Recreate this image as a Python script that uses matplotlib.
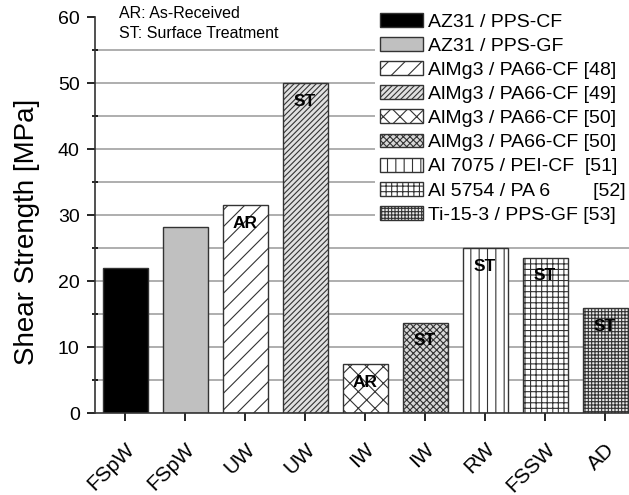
import numpy as np
import matplotlib
matplotlib.use("Agg")
import matplotlib.pyplot as plt
from matplotlib.ticker import MultipleLocator

plt.rcParams['font.family'] = ['Liberation Sans', 'DejaVu Sans']
plt.rcParams['hatch.linewidth'] = 0.8

# data
processes = ["FSpW", "FSpW", "UW", "UW", "IW", "IW", "RW", "FSSW", "AD"]
strength = [22.0, 28.2, 31.5, 50.0, 7.4, 13.7, 25.0, 23.5, 15.9]
materials = ["AZ31 / PPS-CF", "AZ31 / PPS-GF", "AlMg3 / PA66-CF [48]",
             "AlMg3 / PA66-CF [49]", "AlMg3 / PA66-CF [50]", "AlMg3 / PA66-CF [50]",
             "Al 7075 / PEI-CF  [51]", "Al 5754 / PA 6        [52]", "Ti-15-3 / PPS-GF [53]"]
treatment = ["", "", "AR", "ST", "AR", "ST", "ST", "ST", "ST"]

fills = ["black", "#c0c0c0", "white", "#e0e0e0", "white", "#d8d8d8", "white", "white", "#e8e8e8"]
hatches = [None, None, "//", "//////", "xx", "xxxxx", "||", "+++", "+++++"]

fig = plt.figure(figsize=(6.29, 4.95), dpi=100)
ax = fig.add_axes([95/629, 82/495, 534/629, 396/495])

x = np.arange(len(processes))
for yy in range(5, 60, 5):
    ax.axhline(yy, color="#a8a8a8", lw=1.3, zorder=0)

bars = ax.bar(x, strength, width=0.75, color=fills, edgecolor="#333333",
              linewidth=1.0, zorder=2)
for b, h, lab in zip(bars, hatches, materials):
    if h:
        b.set_hatch(h)
    b.set_label(lab)

for xi, v, t in zip(x, strength, treatment):
    if t:
        ax.annotate(t, (xi, v), xytext=(0, -13), textcoords="offset points",
                    ha="center", va="center", fontsize=12.5, fontweight="bold", zorder=3)

ax.set_xlim(-0.5, 8.4)
ax.set_ylim(0, 60)
ax.yaxis.set_major_locator(MultipleLocator(10))
ax.yaxis.set_minor_locator(MultipleLocator(5))
ax.tick_params(axis="y", which="major", direction="out", length=6, width=1.2,
               labelsize=14, pad=5)
ax.tick_params(axis="y", which="minor", direction="inout", length=5, width=1.2)
ax.tick_params(axis="x", direction="out", length=6, width=1.2, labelsize=15, pad=13)
ax.set_xticks(x)
ax.set_xticklabels(processes, rotation=45, ha="right", rotation_mode="anchor")
for s in ["top", "right"]:
    ax.spines[s].set_visible(False)
for s in ["left", "bottom"]:
    ax.spines[s].set_linewidth(1.2)
    ax.spines[s].set_color("#333333")

ax.set_ylabel("Shear Strength [MPa]", fontsize=20)
ax.yaxis.set_label_coords(-0.103, 0.457)

leg = ax.legend(loc="upper left", bbox_to_anchor=(375/629, 1 - 8/495),
                bbox_transform=fig.transFigure, fontsize=14, handlelength=2.2,
                handleheight=0.72, handletextpad=0.3, labelspacing=0.33,
                borderpad=0.25, borderaxespad=0, fancybox=False, framealpha=1)
leg.get_frame().set_edgecolor("white")
leg.get_frame().set_linewidth(0)
leg.set_zorder(5)

fig.text(119/629, 1 - 14/495, "AR: As-Received", fontsize=11.5, va="center")
fig.text(119/629, 1 - 33/495, "ST: Surface Treatment", fontsize=11.5, va="center")

fig.savefig("out.png", dpi=100)
